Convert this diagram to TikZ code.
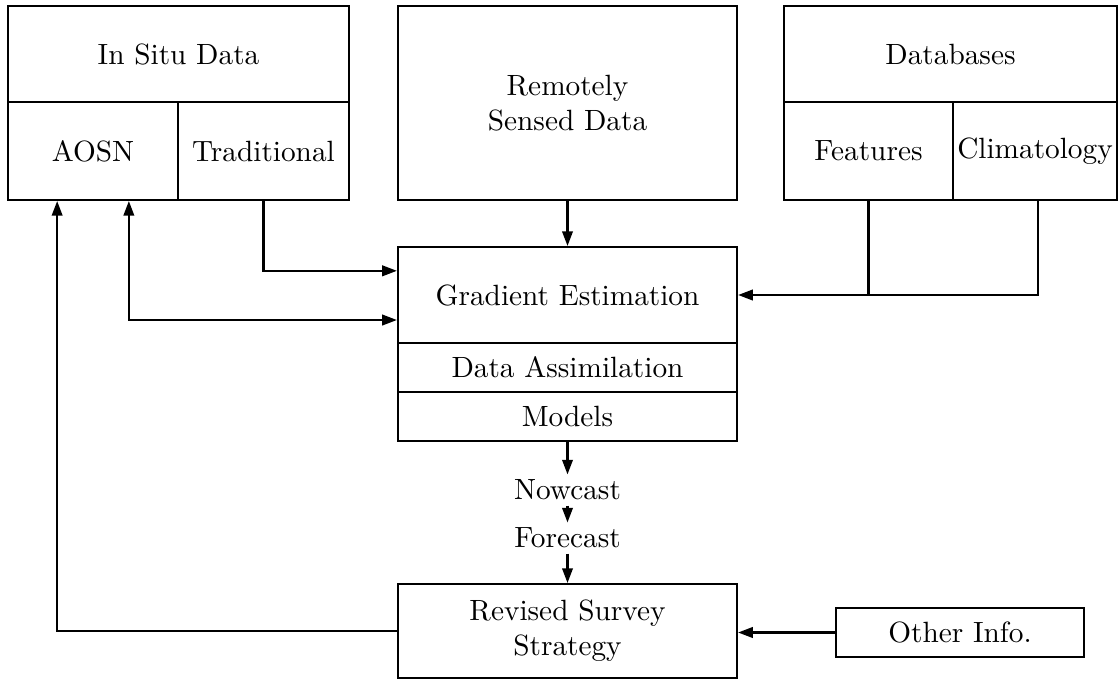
\documentclass[tikz,border=0pt]{standalone}
\usepackage{tikz}
\usetikzlibrary{arrows.meta,positioning,calc}

\begin{document}
\begin{tikzpicture}[
  x=0.012cm,y=-0.012cm,
  line width=.7pt,
  box/.style={draw,line width=.7pt,align=center,inner sep=2pt},
  wide/.style={box,minimum width=4.068cm},
  label/.style={inner sep=1.5pt},
  edge/.style={-{Triangle[length=5pt,width=3.6pt]}},
  twoway/.style={{Triangle[length=5pt,width=3.6pt]}-{Triangle[length=5pt,width=3.6pt]}}
]
\useasboundingbox (0,0) rectangle (1119,680);
% sources
\node[box,minimum width=4.092cm,minimum height=1.152cm] (insitu) at (178.5,54) {In Situ Data};
\node[box,minimum width=2.04cm,minimum height=1.176cm] (aosn) at (93,151) {AOSN};
\node[box,minimum width=2.052cm,minimum height=1.176cm] (trad) at (263.5,151) {Traditional};
\node[wide,minimum height=2.328cm] (remote) at (567.5,103) {Remotely\\Sensed Data};
\node[box,minimum width=3.996cm,minimum height=1.152cm] (dbase) at (950.5,54) {Databases};
\node[box,minimum width=2.028cm,minimum height=1.176cm] (feat) at (868.5,151) {Features};
\node[box,inner sep=.5pt,minimum width=1.968cm,minimum height=1.176cm] (clim) at (1035,151) {Climatology};
% processing
\node[wide,minimum height=1.152cm] (grad) at (567.5,295) {Gradient Estimation};
\node[wide,minimum height=.588cm] (assim) at (567.5,367.5) {Data Assimilation};
\node[wide,minimum height=.588cm] (models) at (567.5,416.5) {Models};
\node[label] (now) at (567.5,490) {Nowcast};
\node[label] (fore) at (567.5,538) {Forecast};
\node[wide,minimum height=1.128cm] (revised) at (567.5,631) {Revised Survey\\Strategy};
\node[box,minimum width=2.976cm,minimum height=.588cm] (other) at (960,632.5) {Other Info.};
% connectors
\draw[edge] (remote) -- (grad);
\draw[edge] (trad.south) |- ([yshift=2.9mm]grad.west);
\draw[twoway] ([xshift=4.3mm]aosn.south) |- ([yshift=-3mm]grad.west);
\draw (feat.south) -- (feat.south |- grad.east);
\draw[edge] ([xshift=.4mm]clim.south) |- (grad.east);
\draw[edge] (models) -- (now);
\draw[edge] (now) -- (fore);
\draw[edge] (fore) -- (revised);
\draw[edge] (other.west) -- (other.west -| revised.east);
\draw[edge] (revised.west) -| ([xshift=-4.3mm]aosn.south);
\end{tikzpicture}
\end{document}
